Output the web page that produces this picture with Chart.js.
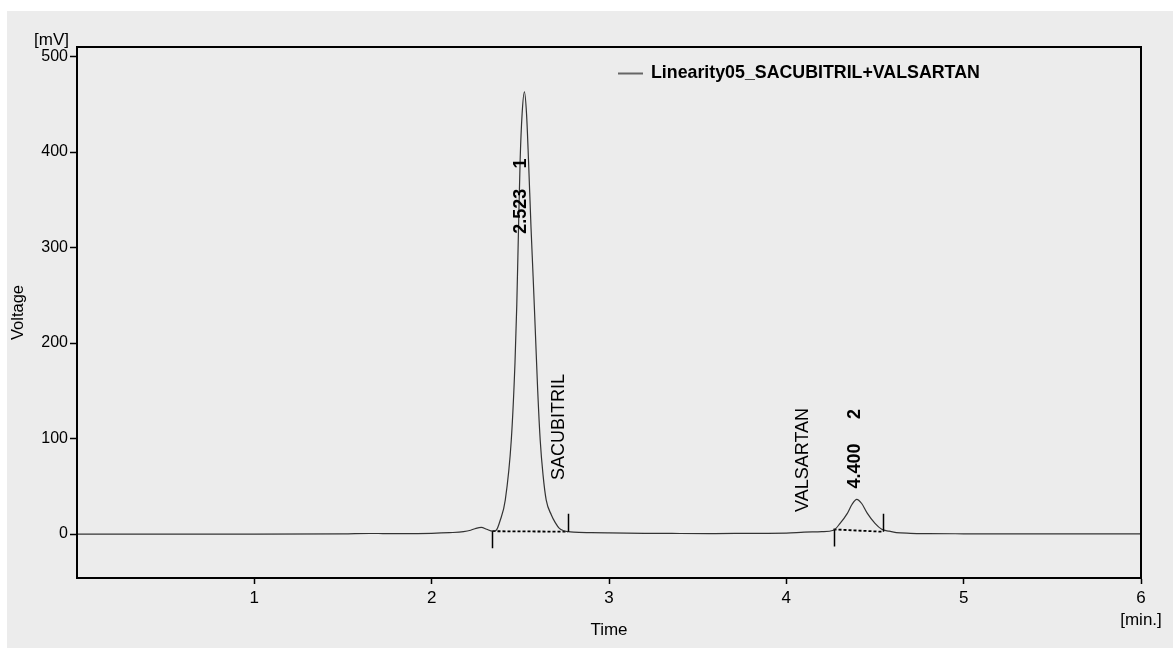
<!DOCTYPE html>
<html>
<head>
<meta charset="utf-8">
<title>Linearity05_SACUBITRIL+VALSARTAN</title>
<script src="https://cdn.jsdelivr.net/npm/chart.js@4.4.0/dist/chart.umd.min.js"></script>
<style>
  html, body { margin: 0; padding: 0; background: #ffffff; }
  #wrap { width: 1173px; height: 648px; }
</style>
</head>
<body>
<div id="wrap"><canvas id="chart" width="1173" height="648"></canvas></div>
<script>
// chromatogram trace (time in min, voltage in mV)
const timeMin = [0.00, 0.50, 1.00, 1.50, 1.65, 1.70, 1.75, 1.85, 2.00, 2.10, 2.18, 2.22, 2.25, 2.28, 2.31, 2.343,
  2.364, 2.387, 2.415, 2.449, 2.470, 2.480, 2.490, 2.499, 2.510, 2.523, 2.535, 2.546, 2.560, 2.572, 2.584,
  2.598, 2.612, 2.628, 2.646, 2.675, 2.697, 2.720, 2.745, 2.770, 2.80, 2.90, 3.00, 3.20, 3.40, 3.60, 3.80,
  4.00, 4.10, 4.20, 4.266, 4.303, 4.344, 4.370, 4.397, 4.425, 4.457, 4.50, 4.538, 4.58, 4.62, 4.70, 4.80,
  5.00, 5.50, 6.00];
const voltage = [0, 0, 0, 0.2, 0.6, 0.6, 0.4, 0.4, 0.8, 1.5, 2.5, 4, 6, 7, 5, 3,
  4, 14.7, 35.6, 98.5, 180, 240, 322, 392, 440, 463, 440, 392, 322, 270, 215,
  150, 98.5, 62, 35.6, 20, 12, 6, 3.5, 2.5, 2, 1.5, 1.2, 0.8, 0.6, 0.5, 0.8,
  1, 2, 2.5, 4, 11.2, 21.7, 31, 36.4, 32, 21.7, 11.2, 5, 3, 1.5, 0.8, 0.5,
  0.3, 0.2, 0.2];

// integration baselines of the two peaks
const peakStartT = [2.343, 4.266];
const peakStartV = [3, 4.9];
const peakEndT = [2.768, 4.547];
const peakEndV = [2.5, 2.4];

// rotated peak labels
const labelText = ['2.523', '1', 'SACUBITRIL', 'VALSARTAN', '4.400', '2'];
const labelT = [2.505, 2.505, 2.719, 4.095, 4.388, 4.390];
const labelV = [338, 388, 112, 77.6, 71.3, 125.8];

// axes
const xTickValues = [1, 2, 3, 4, 5, 6];
const yTickValues = [0, 100, 200, 300, 400, 500];
const seriesName = 'Linearity05_SACUBITRIL+VALSARTAN';

const FONT = "'Liberation Sans', Arial, sans-serif";

const trace = timeMin.map((t, i) => ({ x: t, y: voltage[i] }));
const baselineSets = peakStartT.map((t, i) => ({
  label: 'base' + i,
  data: [{ x: t, y: peakStartV[i] }, { x: peakEndT[i], y: peakEndV[i] }],
  borderColor: '#000000',
  borderWidth: 1.8,
  borderDash: [3, 2],
  pointRadius: 0,
  tension: 0
}));

// background, frame, legend, titles, labels
const decorPlugin = {
  id: 'decor',
  beforeDraw(chart) {
    const ctx = chart.ctx;
    ctx.save();
    ctx.fillStyle = '#ffffff';
    ctx.fillRect(0, 0, chart.width, chart.height);
    ctx.fillStyle = '#ececec';
    ctx.fillRect(7, 11, chart.width - 7, chart.height - 11);
    ctx.restore();
  },
  afterDraw(chart) {
    const ctx = chart.ctx;
    const a = chart.chartArea;
    const xs = chart.scales.x, ys = chart.scales.y;
    ctx.save();

    // plot frame
    ctx.strokeStyle = '#000000';
    ctx.lineWidth = 2;
    ctx.strokeRect(a.left, a.top, a.right - a.left, a.bottom - a.top);

    // peak start / end markers
    ctx.lineWidth = 1.5;
    ctx.beginPath();
    peakStartT.forEach((t, i) => {
      const px = Math.round(xs.getPixelForValue(t)) + 0.5;
      const py = ys.getPixelForValue(peakStartV[i]);
      ctx.moveTo(px, py);
      ctx.lineTo(px, py + 17);
      const qx = Math.round(xs.getPixelForValue(peakEndT[i])) + 0.5;
      const qy = ys.getPixelForValue(peakEndV[i]);
      ctx.moveTo(qx, qy);
      ctx.lineTo(qx, qy - 18);
    });
    ctx.stroke();

    // rotated peak labels
    ctx.fillStyle = '#000000';
    ctx.textAlign = 'center';
    ctx.textBaseline = 'middle';
    labelText.forEach((txt, i) => {
      const px = xs.getPixelForValue(labelT[i]);
      const py = ys.getPixelForValue(labelV[i]);
      const isNum = /^[0-9.]+$/.test(txt);
      ctx.font = (isNum ? 'bold ' : '') + '18px ' + FONT;
      ctx.save();
      ctx.translate(px, py);
      ctx.rotate(-Math.PI / 2);
      ctx.fillText(txt, 0, 0);
      ctx.restore();
    });

    // legend
    ctx.strokeStyle = '#666666';
    ctx.lineWidth = 2;
    ctx.beginPath();
    ctx.moveTo(618, 73.5);
    ctx.lineTo(643, 73.5);
    ctx.stroke();
    ctx.font = 'bold 17.8px ' + FONT;
    ctx.textAlign = 'left';
    ctx.fillText(seriesName, 651, 73.5);

    // units
    ctx.font = '17px ' + FONT;
    ctx.textAlign = 'right';
    ctx.fillText('[mV]', 69, 40);
    ctx.textAlign = 'center';
    ctx.fillText('[min.]', a.right, 620);

    // axis titles
    ctx.font = '17px ' + FONT;
    ctx.fillText('Time', (a.left + a.right) / 2, 630);
    ctx.save();
    ctx.translate(18, (a.top + a.bottom) / 2);
    ctx.rotate(-Math.PI / 2);
    ctx.font = '16.5px ' + FONT;
    ctx.fillText('Voltage', 0, 0);
    ctx.restore();

    ctx.restore();
  }
};

new Chart(document.getElementById('chart'), {
  type: 'line',
  data: {
    datasets: [{
      label: seriesName,
      data: trace,
      borderColor: '#333333',
      borderWidth: 1.2,
      pointRadius: 0,
      cubicInterpolationMode: 'monotone'
    }].concat(baselineSets)
  },
  options: {
    responsive: false,
    animation: false,
    layout: { padding: { top: 47, right: 32, bottom: 0, left: 0 } },
    plugins: {
      legend: { display: false },
      tooltip: { enabled: false }
    },
    scales: {
      x: {
        type: 'linear',
        min: 0,
        max: 6,
        afterFit(scale) { scale.height = 70; },
        afterBuildTicks(scale) { scale.ticks = xTickValues.map(v => ({ value: v })); },
        grid: { drawOnChartArea: false, drawTicks: true, tickLength: 6, tickColor: '#000000', tickWidth: 1.5 },
        border: { display: true, color: '#000000', width: 2 },
        ticks: { color: '#000000', padding: 4, maxRotation: 0, font: { family: FONT, size: 17 } }
      },
      y: {
        min: -46,
        max: 510,
        afterFit(scale) { scale.width = 77; },
        afterBuildTicks(scale) { scale.ticks = yTickValues.map(v => ({ value: v })); },
        grid: { drawOnChartArea: false, drawTicks: true, tickLength: 7, tickColor: '#000000', tickWidth: 1.5 },
        border: { display: true, color: '#000000', width: 2 },
        ticks: { color: '#000000', padding: 2, font: { family: FONT, size: 16 } }
      }
    }
  },
  plugins: [decorPlugin]
});
</script>
</body>
</html>
